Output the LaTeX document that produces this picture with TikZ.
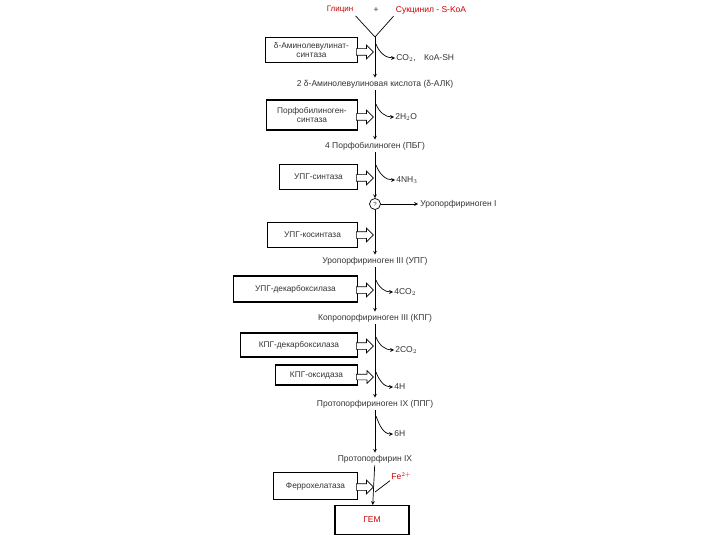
\documentclass[tikz,border=0pt]{standalone}
\usepackage{fontspec}
\setmainfont{Liberation Sans}
\usetikzlibrary{positioning,shapes.arrows}

\begin{document}
\begin{tikzpicture}[x=1pt, y=-1pt, >=stealth, line width=0.7pt, every node/.style={font=\fontsize{8.5}{9.5}\selectfont, text=black!80}]
\tikzstyle{enzyme}=[rectangle, draw, line width=1.1pt, align=center, anchor=east, minimum height=25pt, inner sep=2pt, font=\fontsize{8.3}{9}\selectfont]
\tikzstyle{feed}=[single arrow, draw, fill=white, line width=0.7pt, anchor=west, inner xsep=0pt, inner ysep=3pt, minimum height=17pt, single arrow head extend=3.5pt]
\tikzstyle{product}=[anchor=west, inner sep=1pt]
\tikzstyle{metab}=[inner sep=2pt]
\useasboundingbox (0,0) rectangle (720,540);

% substrates
\node[metab, text=red!80!black, font=\fontsize{8}{9}\selectfont] (gly) at (340,10) {Глицин};
\node[metab] (plus) at (376,10) {+};
\node[metab, text=red!80!black] (succ) at (431,10) {Сукцинил - S-KoA};
\coordinate (join) at (375,37);
\draw (gly.south east) -- (join);
\draw (succ.south west) -- (join);

% intermediates
\node[metab] (ala) at (375,84) {2 δ-Аминолевулиновая кислота (δ-АЛК)};
\node[metab] (pbg) at (375,146) {4 Порфобилиноген (ПБГ)};
\node[circle, draw, inner sep=0.5pt, minimum size=11pt, font=\fontsize{6}{6}\selectfont] (q) at (375,204) {?};
\node[metab, anchor=west] (uro1) at (418,204) {Уропорфириноген I};
\node[metab] (uro3) at (375,261) {Уропорфириноген III (УПГ)};
\node[metab] (copro) at (375,318) {Копропорфириноген III (КПГ)};
\node[metab] (ppg) at (375,404) {Протопорфириноген IX (ППГ)};
\node[metab] (proto) at (375,459) {Протопорфирин IX};
\node[rectangle, draw, line width=1.1pt, minimum width=74pt, minimum height=29pt, text=red!80!black] (gem) at (372,520) {ГЕМ};

% main pathway
\draw[->] (join) -- (ala);
\draw[->] (ala) -- (pbg);
\draw[->] (pbg) -- (q);
\draw[->] (q) -- (uro1);
\draw[->] (q) -- (uro3);
\draw[->] (uro3) -- (copro);
\draw[->] (copro) -- (ppg);
\draw[->] (ppg) -- (proto);
\draw[->] (proto) -- (gem);

% enzymes
\node[enzyme, minimum width=92pt] (e1) at (358,50) {δ-Аминолевулинат-\\синтаза};
\node[enzyme, minimum width=91pt, minimum height=30pt] (e2) at (358,115) {Порфобилиноген-\\синтаза};
\node[enzyme, minimum width=78pt] (e3) at (358,177) {УПГ-синтаза};
\node[enzyme, minimum width=90pt] (e4) at (358,235) {УПГ-косинтаза};
\node[enzyme, minimum width=124pt, minimum height=26pt] (e5) at (358,289) {УПГ-декарбоксилаза};
\node[enzyme, minimum width=117pt, minimum height=24pt] (e6) at (358,345) {КПГ-декарбоксилаза};
\node[enzyme, minimum width=82pt, minimum height=20pt] (e7) at (358,375) {КПГ-оксидаза};
\node[enzyme, minimum width=84pt, minimum height=27pt] (e8) at (358,486) {Феррохелатаза};
\node[feed] (f1) at (356,52) {};
\node[feed] (f2) at (356,117) {};
\node[feed] (f3) at (356,178) {};
\node[feed] (f4) at (356,235) {};
\node[feed] (f5) at (356,290) {};
\node[feed] (f6) at (356,346) {};
\node[feed, inner ysep=2.5pt] (f7) at (356,377) {};
\node[feed] (f8) at (356,487) {};

% side products
\coordinate (s1) at (376,44);
\coordinate (s2) at (376,104);
\coordinate (s3) at (376,165);
\coordinate (s5) at (376,280);
\coordinate (s6) at (376,337);
\coordinate (s7) at (376,372);
\coordinate (s8) at (376,416);
\coordinate (s9) at (375,492);
\node[product] (co2a) at (395,58) {CO$_2$,\quad КоА-SH};
\node[product] (h2o) at (394,117) {2H$_2$O};
\node[product] (nh3) at (395,180) {4NH$_3$};
\node[product] (co2b) at (393,292) {4CO$_2$};
\node[product] (co2c) at (394,350) {2CO$_2$};
\node[product] (h4) at (393,387) {4H};
\node[product] (h6) at (393,434) {6H};
\node[product, text=red!80!black] (fe) at (390,476) {Fe$^{2+}$};
\draw[->] (s1) to[out=-70,in=180] (co2a.west);
\draw[->] (s2) to[out=-70,in=180] (h2o.west);
\draw[->] (s3) to[out=-70,in=180] (nh3.west);
\draw[->] (s5) to[out=-70,in=180] (co2b.west);
\draw[->] (s6) to[out=-70,in=180] (co2c.west);
\draw[->] (s7) to[out=-70,in=180] (h4.west);
\draw[->] (s8) to[out=-70,in=180] (h6.west);
\draw (fe.south west) -- (s9);
\end{tikzpicture}
\end{document}
